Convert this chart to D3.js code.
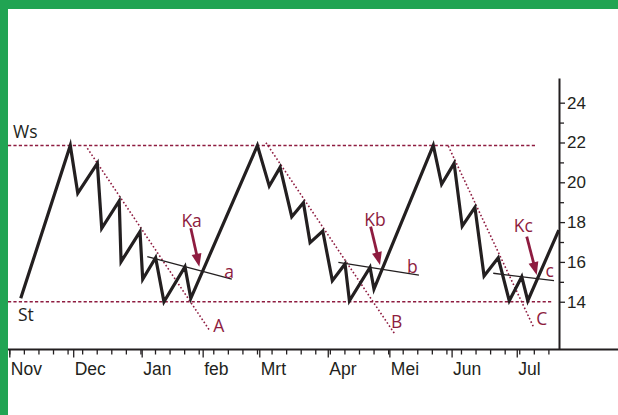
<!DOCTYPE html>
<meta charset="utf-8">
<style>
body { margin: 0; background: #fff; }
svg { display: block; font-family: "Open Sans", sans-serif; }
.axis text { font-size: 17px; fill: #231f20; }
.axis line { stroke: #231f20; stroke-width: 1.3px; }
.axis path { stroke: #231f20; stroke-width: 2px; }
.price { fill: none; stroke: #231f20; stroke-width: 3.2px; stroke-linejoin: miter; stroke-miterlimit: 8; }
.level { stroke: #8e1c40; stroke-width: 1.4px; stroke-dasharray: 3.2 2.2; }
.trend { stroke: #8e1c40; stroke-width: 1.6px; stroke-dasharray: 1.6 2.2; }
.support { stroke: #231f20; stroke-width: 1.3px; }
.red { fill: #8e1c40; font-size: 17.5px; }
.black { fill: #231f20; font-size: 17.5px; }
</style>
<svg width="618" height="415"></svg>
<script src="https://d3js.org/d3.v7.min.js"></script>
<script>

// x in days counted from the Nov tick
var monthLabels = ["Nov", "Dec", "Jan", "feb", "Mrt", "Apr", "Mei", "Jun", "Jul"];
var monthDays = [0, 30.7, 63.6, 92.9, 120.1, 153.0, 182.6, 212.5, 243.8];
var weekDays = [0, 7, 14, 21, 28, 35, 42, 49, 56, 63, 70, 77, 84, 91, 98, 105, 112, 119, 126,
  133, 140, 147, 154, 161, 168, 175, 182, 189, 196, 203, 210, 217, 224, 231, 238, 245, 252, 259];
var majorValues = [14, 16, 18, 20, 22, 24];
var minorValues = [15, 17, 19, 21, 23];

// price path
var priceDays = [5.5, 29.3, 32.9, 42.3, 44.4, 52.8, 53.7, 62.8, 64.1, 70.3, 74.3, 84.4, 87.2,
  119.2, 124.9, 130.1, 135.7, 141.3, 144.5, 150.6, 155.2, 161.3, 163.4, 173.3, 175.2,
  203.7, 207.7, 213.7, 217.6, 223.7, 228.1, 234.9, 240.2, 246.2, 249.1, 264];
var priceValues = [14.17, 21.85, 19.45, 20.95, 17.69, 19.06, 16.01, 17.52, 15.13, 16.21, 14.0, 15.76, 14.17,
  21.85, 19.81, 20.75, 18.27, 18.97, 16.97, 17.55, 15.06, 15.9, 14.05, 15.73, 14.64,
  21.85, 19.9, 20.95, 17.8, 18.74, 15.29, 16.21, 14.05, 15.26, 14.05, 17.6];

// Ws / St levels
var levelNames = ["Ws", "St"];
var levelValues = [21.85, 14];

// dotted down trend lines A, B, C
var trendNames = ["A", "B", "C"];
var trendFrom = [[37.5, 21.71], [123.3, 21.99], [210.9, 21.82]];
var trendTo = [[96.1, 12.58], [185.0, 12.41], [251.8, 12.74]];
var trendLabelAt = [[100.6, 12.49], [186.1, 12.66], [255.8, 12.83]];

// thin support lines a, b, c
var supportNames = ["a", "b", "c"];
var supportFrom = [[66.3, 16.26], [158.1, 15.98], [232.5, 15.43]];
var supportTo = [[106.9, 15.14], [196.8, 15.34], [261.7, 15.06]];
var supportLabelAt = [[105.6, 15.19], [193.7, 15.46], [259.6, 15.26]];

// buy arrows Ka, Kb, Kc
var arrowNames = ["Ka", "Kb", "Kc"];
var arrowFrom = [[87.2, 17.69], [173.6, 17.77], [248.6, 17.27]];
var arrowTo = [[91.3, 15.76], [178.1, 15.84], [253.4, 15.34]];
var arrowLabelAt = [[87.6, 17.77], [175.7, 17.8], [247, 17.52]];

var svg = d3.select("svg"),
  width = +svg.attr("width"),
  height = +svg.attr("height");

var x = d3.scaleLinear().domain([0, 264]).range([9.3, 558.8]);
var y = d3.scaleLinear().domain([11.6, 25.24]).range([349.5, 78]);

// green frame
svg.append("rect").attr("x", 0).attr("y", 0).attr("width", 8).attr("height", height).attr("fill", "#21a453");
svg.append("rect").attr("x", 0).attr("y", 0).attr("width", width).attr("height", 9).attr("fill", "#21a453");

// Ws / St dashed levels
var levelEnd = [537, 553];
svg.selectAll(".level")
  .data(levelValues)
  .enter().append("line")
  .attr("class", "level")
  .attr("x1", 8)
  .attr("x2", function(d, i) { return levelEnd[i]; })
  .attr("y1", function(d) { return y(d); })
  .attr("y2", function(d) { return y(d); });

svg.append("text").attr("class", "black")
  .attr("x", 13).attr("y", y(levelValues[0]) - 7).text(levelNames[0]);
svg.append("text").attr("class", "black")
  .attr("x", 18).attr("y", y(levelValues[1]) + 19).text(levelNames[1]);

// trend lines
trendNames.forEach(function(n, i) {
  svg.append("line").attr("class", "trend")
    .attr("x1", x(trendFrom[i][0])).attr("y1", y(trendFrom[i][1]))
    .attr("x2", x(trendTo[i][0])).attr("y2", y(trendTo[i][1]));
  svg.append("text").attr("class", "red")
    .attr("text-anchor", "middle")
    .attr("x", x(trendLabelAt[i][0])).attr("y", y(trendLabelAt[i][1]))
    .text(n);
});

// support lines
supportNames.forEach(function(n, i) {
  svg.append("line").attr("class", "support")
    .attr("x1", x(supportFrom[i][0])).attr("y1", y(supportFrom[i][1]))
    .attr("x2", x(supportTo[i][0])).attr("y2", y(supportTo[i][1]));
});

// price line
var line = d3.line()
  .x(function(d, i) { return x(priceDays[i]); })
  .y(function(d) { return y(d); });

svg.append("path")
  .attr("class", "price")
  .attr("d", line(priceValues));

supportNames.forEach(function(n, i) {
  svg.append("text").attr("class", "red")
    .attr("text-anchor", "middle")
    .attr("x", x(supportLabelAt[i][0])).attr("y", y(supportLabelAt[i][1]))
    .text(n);
});

// arrows
arrowNames.forEach(function(n, i) {
  var x0 = x(arrowFrom[i][0]), y0 = y(arrowFrom[i][1]),
    x1 = x(arrowTo[i][0]), y1 = y(arrowTo[i][1]);
  var a = Math.atan2(y1 - y0, x1 - x0),
    head = 13, half = 5;
  var bx = x1 - head * Math.cos(a), by = y1 - head * Math.sin(a);
  svg.append("line")
    .attr("x1", x0).attr("y1", y0).attr("x2", bx + Math.cos(a)).attr("y2", by + Math.sin(a))
    .attr("stroke", "#8e1c40").attr("stroke-width", 2.8);
  svg.append("path")
    .attr("fill", "#8e1c40")
    .attr("d", "M" + x1 + "," + y1 +
      "L" + (bx + half * Math.sin(a)) + "," + (by - half * Math.cos(a)) +
      "L" + (bx - half * Math.sin(a)) + "," + (by + half * Math.cos(a)) + "Z");
  svg.append("text").attr("class", "red")
    .attr("text-anchor", "middle")
    .attr("x", x(arrowLabelAt[i][0])).attr("y", y(arrowLabelAt[i][1]))
    .text(n);
});

// bottom axis
svg.append("line")
  .attr("x1", 8).attr("x2", width)
  .attr("y1", 349.5).attr("y2", 349.5)
  .attr("stroke", "#231f20").attr("stroke-width", 2);

svg.append("g").attr("class", "axis")
  .attr("transform", "translate(0,349.5)")
  .call(d3.axisBottom(x).tickValues(weekDays).tickSize(5).tickFormat(""))
  .call(function(g) { g.select(".domain").remove(); });

svg.append("g").attr("class", "axis")
  .attr("transform", "translate(0,349.5)")
  .call(d3.axisBottom(x).tickValues(monthDays).tickSize(8).tickPadding(5)
    .tickFormat(function(d, i) { return monthLabels[i]; }))
  .call(function(g) { g.select(".domain").remove(); })
  .selectAll("text")
  .attr("text-anchor", "start")
  .attr("dx", 1)
  .style("font-size", "17.5px");

// right axis
svg.append("g").attr("class", "axis")
  .attr("transform", "translate(559,0)")
  .call(d3.axisRight(y).tickValues(minorValues).tickSize(5).tickFormat(""))
  .call(function(g) { g.select(".domain").remove(); });

svg.append("g").attr("class", "axis")
  .attr("transform", "translate(559,0)")
  .call(d3.axisRight(y).tickValues(majorValues).tickSize(6).tickPadding(2).tickSizeOuter(0));

</script>
